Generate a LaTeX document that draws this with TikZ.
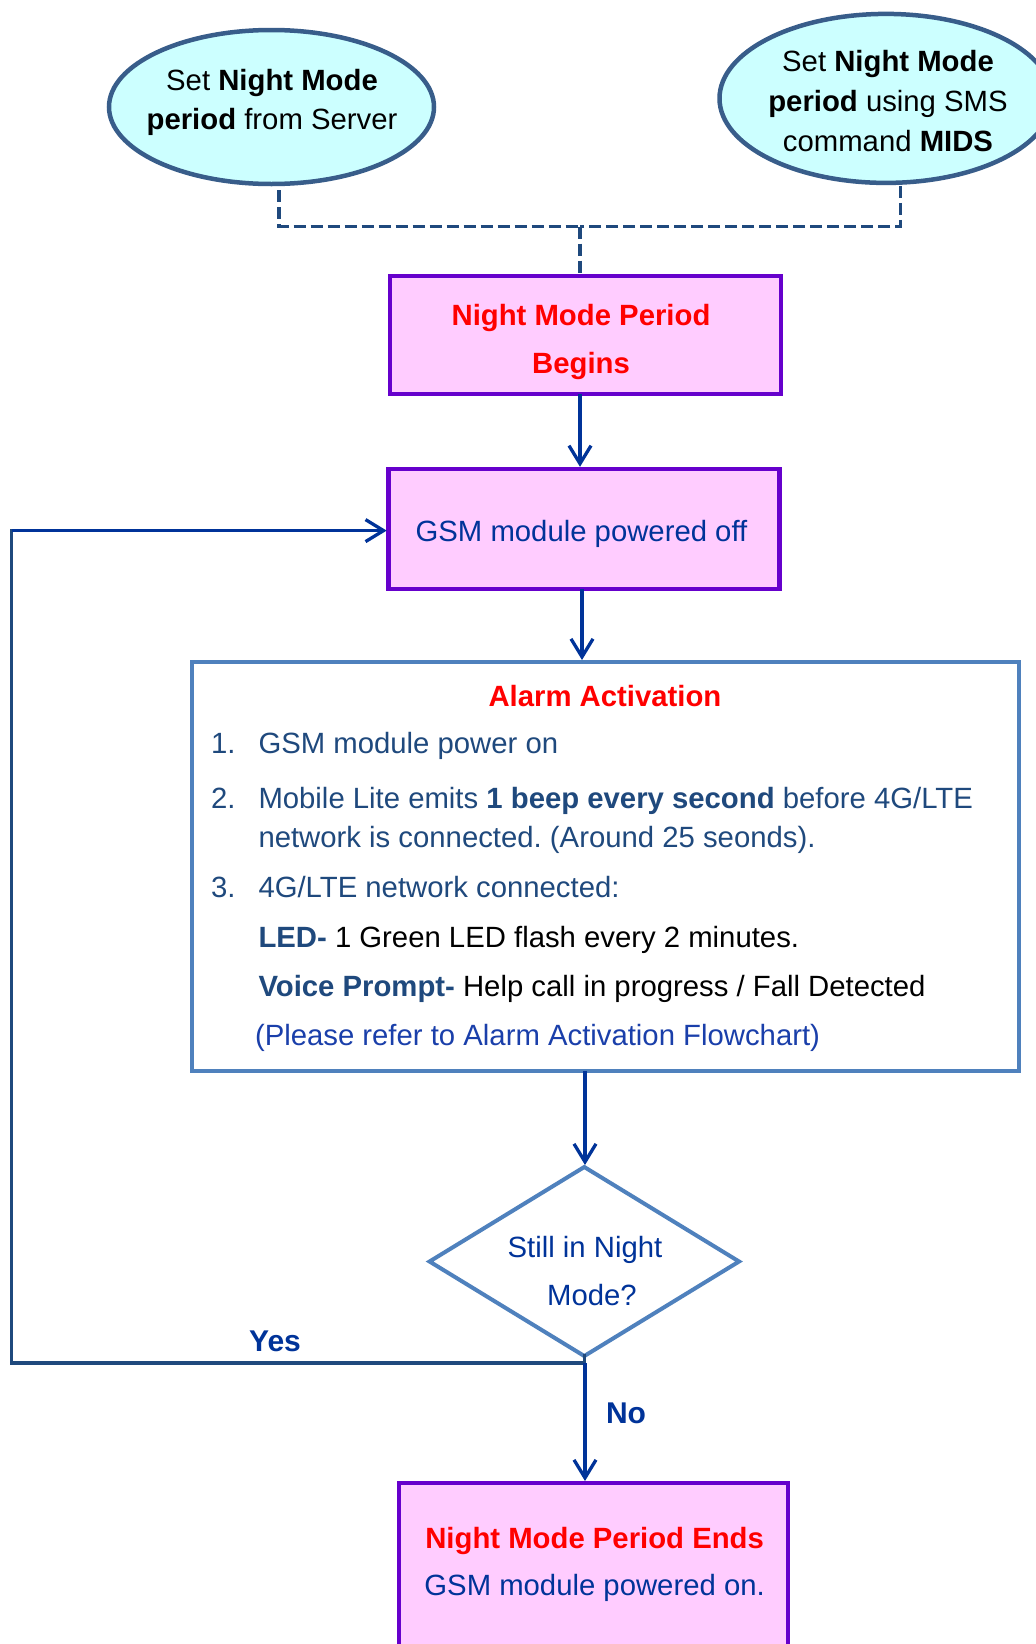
\documentclass[tikz,border=0pt]{standalone}
\usepackage{fontspec}
\setmainfont{Liberation Sans}
\usetikzlibrary{shapes.geometric,arrows.meta}
\definecolor{dkblue}{HTML}{003399}
\definecolor{slate}{HTML}{1F497D}
\definecolor{ellbd}{HTML}{385D8A}
\definecolor{ellfill}{HTML}{CCFFFF}
\definecolor{pinkfill}{HTML}{FFCCFF}
\definecolor{purplebd}{HTML}{6600CC}
\definecolor{steel}{HTML}{4F81BD}
\definecolor{plsblue}{HTML}{1A3FAA}
\definecolor{redtxt}{HTML}{FF0000}
\frenchspacing
\begin{document}
\begin{tikzpicture}[x=1pt,y=-1pt,
  every node/.style={font=\fontsize{29.3}{36}\selectfont, inner sep=0pt, outer sep=0pt},
  ell/.style={ellipse, draw=ellbd, fill=ellfill, line width=4.5pt},
  pbox/.style={rectangle, draw=purplebd, fill=pinkfill, line width=4.5pt},
  abox/.style={rectangle, draw=steel, fill=white, line width=4pt},
  dmd/.style={diamond, draw=steel, fill=white, line width=4pt},
  txt/.style={anchor=base},
  txtl/.style={anchor=base west},
  bfred/.style={text=redtxt, font=\fontsize{29.3}{36}\selectfont\bfseries},
  arr/.style={draw=dkblue, line width=3.3pt, shorten >=2pt, -{Straight Barb[length=18pt,width=22pt]}},
  dashln/.style={draw=slate, line width=3.8pt, dash pattern=on 12pt off 5pt},
  yesln/.style={draw=slate, line width=3.5pt, line cap=rect},
  lbl/.style={anchor=base, font=\fontsize{30}{36}\selectfont\bfseries, text=dkblue},
]
\useasboundingbox (0,0) rectangle (1036,1644);
\clip (0,0) rectangle (1036,1644);
\fill[white] (0,0) rectangle (1036,1644);

% ellipses
\node[ell, minimum width=325pt, minimum height=154pt] (srv) at (271.5,107) {};
\node[ell, minimum width=333pt, minimum height=169pt] (sms) at (886,98.4) {};
\node[txt] (srvt1) at (272,90) {Set \textbf{Night Mode}};
\node[txt] (srvt2) at (272,129.5) {\textbf{period} from Server};
\node[txt] (smst1) at (888,71) {Set \textbf{Night Mode}};
\node[txt] (smst2) at (888,111) {\textbf{period} using SMS};
\node[txt] (smst3) at (888,151) {command \textbf{MIDS}};

% boxes
\node[pbox, minimum width=391pt, minimum height=118pt] (b1) at (585.5,335) {};
\node[txt, bfred] (b1t1) at (581,325.7) {Night Mode Period};
\node[txt, bfred] (b1t2) at (581,373) {Begins};

\node[pbox, minimum width=391pt, minimum height=120pt] (b2) at (584.2,528.8) {};
\node[txt, text=dkblue] (b2t) at (581.5,541) {GSM module powered off};

\node[abox, minimum width=827pt, minimum height=409pt] (al) at (605.5,866.5) {};
\node[txt, bfred] (alt) at (605,706) {Alarm Activation};
\node[txtl, text=slate] (n1) at (211,753) {1.};
\node[txtl, text=slate] (t1) at (258.5,753) {GSM module power on};
\node[txtl, text=slate] (n2) at (211,808) {2.};
\node[txtl, text=slate] (t2) at (258.5,808) {Mobile Lite emits \textbf{1 beep every second} before 4G/LTE};
\node[txtl, text=slate] (t2b) at (258.5,847) {network is connected. (Around 25 seonds).};
\node[txtl, text=slate] (n3) at (211,897) {3.};
\node[txtl, text=slate] (t3) at (258.5,897) {4G/LTE network connected:};
\node[txtl] (led) at (258.5,947) {\textcolor{slate}{\textbf{LED-}} 1 Green LED flash every 2 minutes.};
\node[txtl] (voice) at (258.5,996) {\textcolor{slate}{\textbf{Voice Prompt-}} Help call in progress / Fall Detected};
\node[txtl, text=plsblue] (pls) at (255,1045) {(Please refer to Alarm Activation Flowchart)};

\node[dmd, minimum width=309.5pt, minimum height=189pt] (dm) at (584.3,1261.5) {};
\node[txt, text=dkblue] (dmt1) at (585,1257) {Still in Night};
\node[txt, text=dkblue] (dmt2) at (592,1305) {Mode?};

\node[pbox, minimum width=389pt, minimum height=250pt] (b3) at (593.5,1608) {};
\node[txt, bfred] (b3t1) at (594.6,1548) {Night Mode Period Ends};
\node[txt, text=dkblue] (b3t2) at (594.6,1595) {GSM module powered on.};

% connector coordinates
\coordinate (dl) at (279,226.5);
\coordinate (dr) at (900.5,226.5);
\coordinate (dmid) at (580,226.5);
\coordinate (ax1) at (580,0);
\coordinate (ax2) at (582,0);
\coordinate (ax3) at (585,0);
\coordinate (ybot) at (11.5,1363);
\coordinate (ytop) at (11.5,530.6);

% dashed connectors
\draw[dashln, shorten <=6pt] (srv.south -| dl) -- (dl) -- (dmid);
\draw[dashln, shorten <=3pt] (sms.south -| dr) -- (dr) -- (dmid);
\draw[dashln] (dmid) -- (b1.north -| dmid);

% arrows
\draw[arr] (b1.south -| ax1) -- (b2.north -| ax1);
\draw[arr] (b2.south -| ax2) -- (al.north -| ax2);
\draw[arr] (al.south -| ax3) -- (dm.north -| ax3);
\draw[yesln] (dm.south) -- (dm.south |- ybot) -- (ybot) -- (ytop);
\draw[arr] (ytop) -- (b2.west |- ytop);
\draw[arr] (ax3 |- ybot) -- (b3.north -| ax3);

\node[lbl] (yes) at (275,1351.7) {Yes};
\node[lbl, anchor=base west] (no) at (606,1423) {No};
\end{tikzpicture}
\end{document}
